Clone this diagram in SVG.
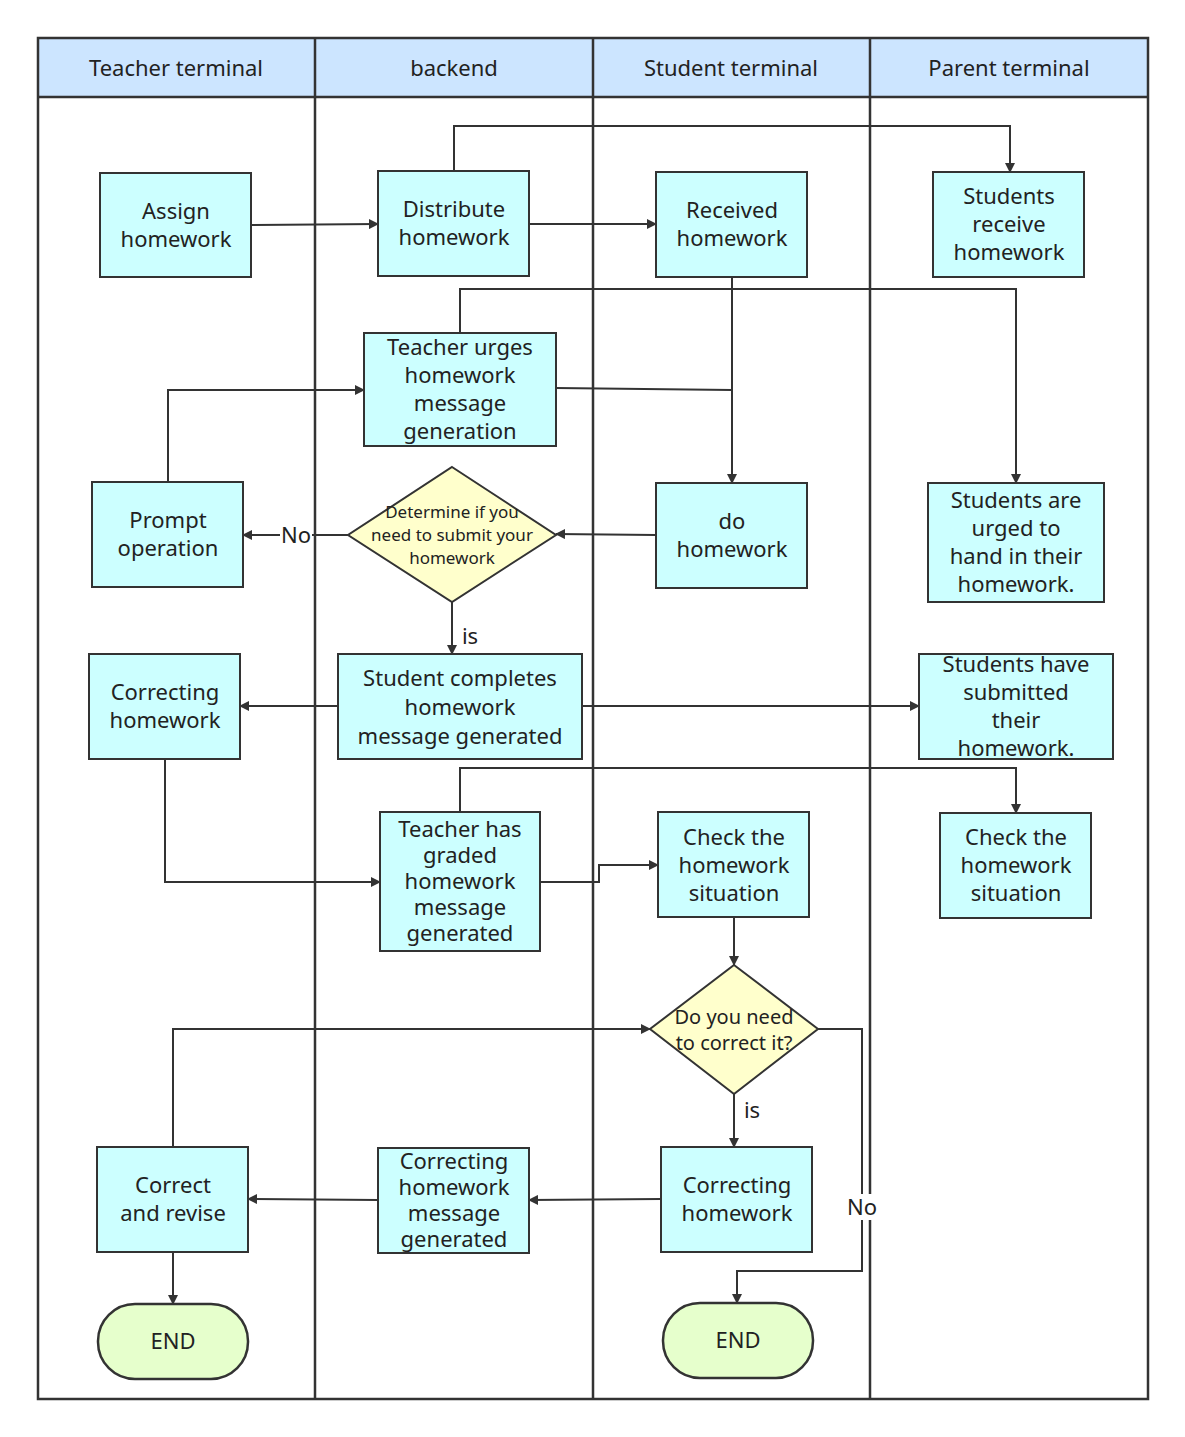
<svg xmlns="http://www.w3.org/2000/svg" width="1185" height="1437" viewBox="0 0 1185 1437">
<style>
.n{fill:#ccffff;stroke:#333;stroke-width:2}
.d{fill:#ffffcc;stroke:#333;stroke-width:2}
.e{fill:#e6ffcc;stroke:#333;stroke-width:2.5}
.h{fill:#cce5ff;stroke:#333;stroke-width:2}
.l{fill:none;stroke:#333;stroke-width:2.5}
.c{fill:none;stroke:#333;stroke-width:2;marker-end:url(#a)}
text{font-family:"Noto Sans","Liberation Sans",sans-serif;font-size:22px;fill:#222;text-anchor:middle}
.s{font-size:17px}
</style>
<defs><marker id="a" markerWidth="10" markerHeight="10" refX="9" refY="5" orient="auto" markerUnits="userSpaceOnUse"><path d="M0,0 L10,5 L0,10 Z" fill="#333"/></marker></defs>
<rect width="1185" height="1437" fill="#fff"/>
<g id="lanes">
<rect class="h" x="38" y="38" width="1110" height="59"/>
<rect class="l" x="38" y="38" width="1110" height="1361"/>
<line class="l" x1="38" y1="97" x2="1148" y2="97"/>
<line class="l" x1="315" y1="38" x2="315" y2="1399"/>
<line class="l" x1="593" y1="38" x2="593" y2="1399"/>
<line class="l" x1="870" y1="38" x2="870" y2="1399"/>
<text x="176" y="76">Teacher terminal</text><text x="454" y="76">backend</text><text x="731" y="76">Student terminal</text><text x="1009" y="76">Parent terminal</text>
</g>
<g id="connectors">
<path class="c" d="M251,225 L378,224"/>
<path class="c" d="M454,171 V126 H1010 V172"/>
<path class="c" d="M529,224 H656"/>
<path class="c" d="M732,277 V483"/>
<path class="c" d="M460,333 V289 H1016 V483"/>
<path class="c" d="M556,388 L732,390" style="marker-end:none"/>
<path class="c" d="M168,482 V390 H364"/>
<path class="c" d="M656,535 L556,534"/>
<path class="c" d="M348,535 H243"/>
<path class="c" d="M452,602 V654"/>
<path class="c" d="M338,706 H240"/>
<path class="c" d="M582,706 H919"/>
<path class="c" d="M460,812 V768 H1016 V813"/>
<path class="c" d="M165,759 V882 H380"/>
<path class="c" d="M540,882 H599 V865 H658"/>
<path class="c" d="M734,917 V965"/>
<path class="c" d="M734,1094 V1147"/>
<path class="c" d="M818,1029 H862 V1271 H737 V1303"/>
<path class="c" d="M661,1199 L529,1200"/>
<path class="c" d="M378,1200 L248,1199"/>
<path class="c" d="M173,1147 V1029 H650"/>
<path class="c" d="M173,1252 V1304"/>
<rect x="280" y="522" width="32" height="26" fill="#fff"/><text x="296" y="543">No</text>
<text x="470" y="644">is</text>
<text x="752" y="1118">is</text>
<rect x="846" y="1194" width="34" height="26" fill="#fff"/><text x="862" y="1215">No</text>
</g>
<g id="n1"><rect class="n" x="100" y="173" width="151" height="104"/><text x="176" y="219">Assign</text><text x="176" y="247">homework</text></g>
<g id="n2"><rect class="n" x="378" y="171" width="151" height="105"/><text x="454" y="217">Distribute</text><text x="454" y="245">homework</text></g>
<g id="n3"><rect class="n" x="656" y="172" width="151" height="105"/><text x="732" y="218">Received</text><text x="732" y="246">homework</text></g>
<g id="n4"><rect class="n" x="933" y="172" width="151" height="105"/><text x="1009" y="204">Students</text><text x="1009" y="232">receive</text><text x="1009" y="260">homework</text></g>
<g id="n5"><rect class="n" x="364" y="333" width="192" height="113"/><text x="460" y="355">Teacher urges</text><text x="460" y="383">homework</text><text x="460" y="411">message</text><text x="460" y="439">generation</text></g>
<g id="n6"><rect class="n" x="92" y="482" width="151" height="105"/><text x="168" y="528">Prompt</text><text x="168" y="556">operation</text></g>
<g id="n7"><polygon class="d" points="452,467 556,535 452,602 348,535"/><text class="s" x="452" y="518">Determine if you</text><text class="s" x="452" y="541">need to submit your</text><text class="s" x="452" y="564">homework</text></g>
<g id="n8"><rect class="n" x="656" y="483" width="151" height="105"/><text x="732" y="529">do</text><text x="732" y="557">homework</text></g>
<g id="n9"><rect class="n" x="928" y="483" width="176" height="119"/><text x="1016" y="508">Students are</text><text x="1016" y="536">urged to</text><text x="1016" y="564">hand in their</text><text x="1016" y="592">homework.</text></g>
<g id="n10"><rect class="n" x="89" y="654" width="151" height="105"/><text x="165" y="700">Correcting</text><text x="165" y="728">homework</text></g>
<g id="n11"><rect class="n" x="338" y="654" width="244" height="105"/><text x="460" y="686">Student completes</text><text x="460" y="715">homework</text><text x="460" y="744">message generated</text></g>
<g id="n12"><rect class="n" x="919" y="654" width="194" height="105"/><text x="1016" y="672">Students have</text><text x="1016" y="700">submitted</text><text x="1016" y="728">their</text><text x="1016" y="756">homework.</text></g>
<g id="n13"><rect class="n" x="380" y="812" width="160" height="139"/><text x="460" y="837">Teacher has</text><text x="460" y="863">graded</text><text x="460" y="889">homework</text><text x="460" y="915">message</text><text x="460" y="941">generated</text></g>
<g id="n14"><rect class="n" x="658" y="812" width="151" height="105"/><text x="734" y="845">Check the</text><text x="734" y="873">homework</text><text x="734" y="901">situation</text></g>
<g id="n15"><rect class="n" x="940" y="813" width="151" height="105"/><text x="1016" y="845">Check the</text><text x="1016" y="873">homework</text><text x="1016" y="901">situation</text></g>
<g id="n16"><polygon class="d" points="734,965 818,1029 734,1094 650,1029"/><text x="734" y="1024" style="font-size:20px">Do you need</text><text x="734" y="1050" style="font-size:20px">to correct it?</text></g>
<g id="n17"><rect class="n" x="97" y="1147" width="151" height="105"/><text x="173" y="1193">Correct</text><text x="173" y="1221">and revise</text></g>
<g id="n18"><rect class="n" x="378" y="1148" width="151" height="105"/><text x="454" y="1169">Correcting</text><text x="454" y="1195">homework</text><text x="454" y="1221">message</text><text x="454" y="1247">generated</text></g>
<g id="n19"><rect class="n" x="661" y="1147" width="151" height="105"/><text x="737" y="1193">Correcting</text><text x="737" y="1221">homework</text></g>
<g id="n20"><rect class="e" x="98" y="1304" width="150" height="75" rx="37"/><text x="173" y="1349">END</text></g>
<g id="n21"><rect class="e" x="663" y="1303" width="150" height="75" rx="37"/><text x="738" y="1348">END</text></g>
</svg>
